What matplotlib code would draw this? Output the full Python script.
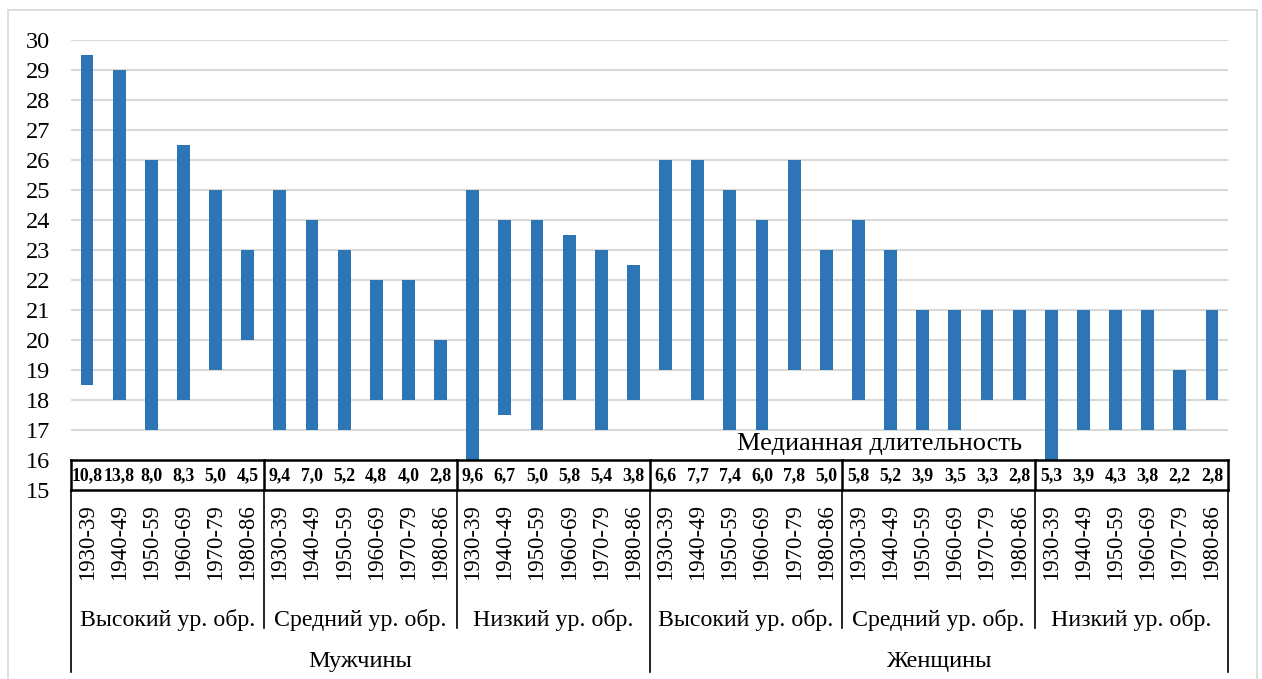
import matplotlib
matplotlib.use("Agg")
import matplotlib.pyplot as plt
from matplotlib.lines import Line2D

cohorts = ["1930-39", "1940-49", "1950-59", "1960-69", "1970-79", "1980-86"]
edu_groups = ["Высокий ур. обр.", "Средний ур. обр.", "Низкий ур. обр."]
sex_groups = ["Мужчины", "Женщины"]

low = [18.5, 18, 17, 18, 19, 20,
       17, 17, 17, 18, 18, 18,
       16, 17.5, 17, 18, 17, 18,
       19, 18, 17, 17, 19, 19,
       18, 17, 17, 17, 18, 18,
       16, 17, 17, 17, 17, 18]
high = [29.5, 29, 26, 26.5, 25, 23,
        25, 24, 23, 22, 22, 20,
        25, 24, 24, 23.5, 23, 22.5,
        26, 26, 25, 24, 26, 23,
        24, 23, 21, 21, 21, 21,
        21, 21, 21, 21, 19, 21]
medians = ["10,8", "13,8", "8,0", "8,3", "5,0", "4,5",
           "9,4", "7,0", "5,2", "4,8", "4,0", "2,8",
           "9,6", "6,7", "5,0", "5,8", "5,4", "3,8",
           "6,6", "7,7", "7,4", "6,0", "7,8", "5,0",
           "5,8", "5,2", "3,9", "3,5", "3,3", "2,8",
           "5,3", "3,9", "4,3", "3,8", "2,2", "2,8"]
median_title = "Медианная длительность"

plt.rcParams['font.family'] = ['Liberation Serif', 'DejaVu Serif']

W, H = 1262, 679
fig = plt.figure(figsize=(W / 100, H / 100), dpi=100)
L, R, T, B = 71, 1228, 40, 490
ax = fig.add_axes([L / W, 1 - B / H, (R - L) / W, (B - T) / H])

n = len(low)
xs = list(range(n))
heights = [h - l for h, l in zip(high, low)]
ax.bar(xs, heights, bottom=low, width=0.4, color='#2E75B6', zorder=3)

ax.set_xlim(-0.5, n - 0.5)
ax.set_ylim(15, 30)
ax.set_yticks(range(15, 31))
ax.tick_params(axis='y', length=0, pad=15, labelsize=17.5)
ax.set_xticks([])
for s in ax.spines.values():
    s.set_visible(False)
for y in range(17, 31):
    ax.axhline(y, color='#d9d9d9', lw=1.5, zorder=1)

# table row (y 15..16)
lw_t = 1.8
ax.plot([-0.5, n - 0.5], [16, 16], color='black', lw=lw_t, zorder=4, clip_on=False)
ax.plot([-0.5, n - 0.5], [15, 15], color='black', lw=lw_t, zorder=4, clip_on=False)
for k in range(0, n + 1, 6):
    ax.plot([k - 0.5, k - 0.5], [15, 16], color='black', lw=lw_t, zorder=4, clip_on=False)
for i, m in enumerate(medians):
    ax.text(i, 15.48, m, ha='center', va='center', fontsize=12.8,
            fontweight='bold', zorder=5)

ax.text(24.67, 16.52, median_title, ha='center', va='center', fontsize=19, zorder=5)

# below axes: category labels, group labels, separators
tr = ax.get_xaxis_transform()
def fr(ypix):
    return (B - ypix) / (B - T)

for i in range(n):
    ax.text(i, fr(504), cohorts[i % 6], rotation=90, ha='center', va='top',
            fontsize=16.4, transform=tr, clip_on=False)
for g in range(6):
    ax.text(g * 6 + 2.5, fr(620), edu_groups[g % 3], ha='center', va='center',
            fontsize=17.2, transform=tr, clip_on=False)
for s in range(2):
    ax.text(s * 18 + 8.5, fr(661), sex_groups[s], ha='center', va='center',
            fontsize=17.6, transform=tr, clip_on=False)
for k in range(0, n + 1, 6):
    yb = fr(672) if k % 18 == 0 else fr(628)
    ax.add_line(Line2D([k - 0.5, k - 0.5], [0, yb], color='black', lw=1.2,
                       transform=tr, clip_on=False))

# outer light frame
fx = lambda p: p / W
fy = lambda p: 1 - p / H
for xx, yy in [([8, 8], [10, 679]), ([8, 1257], [10, 10]), ([1257, 1257], [10, 679])]:
    fig.add_artist(Line2D([fx(v) for v in xx], [fy(v) for v in yy],
                          color='#d9d9d9', lw=1.2, transform=fig.transFigure))

fig.savefig("out.png", dpi=100)
